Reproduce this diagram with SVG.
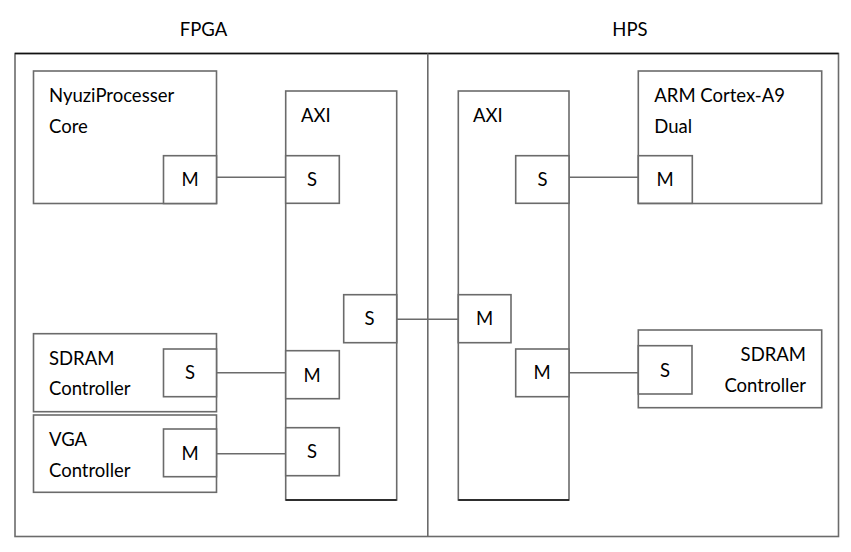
<svg xmlns="http://www.w3.org/2000/svg" width="851" height="552" viewBox="0 0 851 552">
<style>
.b{fill:#fff;stroke:#6b6b6b;stroke-width:1.6}
.f{fill:none;stroke:#6b6b6b;stroke-width:1.6}
.c{fill:none;stroke:#6b6b6b;stroke-width:1.6}
text{font-family:Lato,"Liberation Sans",sans-serif;font-size:18.5px;fill:#000}
.m{text-anchor:middle}
.e{text-anchor:end}
</style>
<rect width="851" height="552" fill="#fff"/>
<g id="frame">
<rect class="f" x="15" y="53.5" width="823.5" height="483"/>
<line x1="15" y1="53.5" x2="838.5" y2="53.5" stroke="#111" stroke-width="1.4"/>
<line class="f" x1="427.8" y1="53.5" x2="427.8" y2="536.5"/>
<text class="m" x="203.5" y="36">FPGA</text>
<text class="m" x="630" y="36">HPS</text>
</g>
<g id="nyuzi">
<rect class="b" x="33.5" y="71" width="183" height="132.5"/>
<text x="49" y="102.3">NyuziProcesser</text>
<text x="49" y="132.7">Core</text>
<rect class="b" x="163.5" y="155.7" width="53" height="47.8"/>
<text class="m" x="190" y="186">M</text>
</g>
<g id="sdram-fpga">
<rect class="b" x="33.5" y="333.7" width="183" height="78"/>
<text x="49" y="365">SDRAM</text>
<text x="49" y="395.3">Controller</text>
<rect class="b" x="163.5" y="349" width="53" height="47.7"/>
<text class="m" x="190" y="379.3">S</text>
</g>
<g id="vga">
<rect class="b" x="33.5" y="415" width="183" height="77.3"/>
<text x="49" y="445.7">VGA</text>
<text x="49" y="476.7">Controller</text>
<rect class="b" x="163.5" y="429" width="53" height="47.7"/>
<text class="m" x="190" y="460">M</text>
</g>
<g id="axi-fpga">
<rect class="b" x="285.7" y="91" width="111" height="409"/>
<line x1="285.7" y1="500" x2="396.7" y2="500" stroke="#111" stroke-width="1.4"/>
<text x="301" y="121.7">AXI</text>
<rect class="b" x="285.7" y="155.7" width="53.6" height="47.6"/>
<text class="m" x="312" y="186">S</text>
<rect class="b" x="343.7" y="294.7" width="53" height="48"/>
<text class="m" x="369.5" y="325">S</text>
<rect class="b" x="285.7" y="350.7" width="53.6" height="48"/>
<text class="m" x="312" y="381.7">M</text>
<rect class="b" x="285.7" y="427.7" width="53.6" height="48"/>
<text class="m" x="312" y="458.3">S</text>
</g>
<g id="axi-hps">
<rect class="b" x="458.3" y="91" width="110.7" height="409"/>
<line x1="458.3" y1="500" x2="569" y2="500" stroke="#111" stroke-width="1.4"/>
<text x="473" y="121.7">AXI</text>
<rect class="b" x="515.7" y="155.7" width="53.3" height="47.6"/>
<text class="m" x="542.5" y="186">S</text>
<rect class="b" x="458.3" y="294.7" width="52.7" height="48"/>
<text class="m" x="484.5" y="325">M</text>
<rect class="b" x="515.7" y="349" width="53.3" height="47.7"/>
<text class="m" x="542" y="379.3">M</text>
</g>
<g id="arm">
<rect class="b" x="638.3" y="71" width="183.4" height="132.5"/>
<text x="654.3" y="102.3">ARM Cortex-A9</text>
<text x="654.3" y="132.7">Dual</text>
<rect class="b" x="638.3" y="155.7" width="54" height="47.6"/>
<text class="m" x="665" y="186">M</text>
</g>
<g id="sdram-hps">
<rect class="b" x="638.3" y="330" width="183.4" height="77.7"/>
<text class="e" x="806" y="361">SDRAM</text>
<text class="e" x="806" y="391.7">Controller</text>
<rect class="b" x="638.3" y="345.7" width="53.7" height="48.3"/>
<text class="m" x="665" y="376.7">S</text>
</g>
<g id="connectors">
<line class="c" x1="216.5" y1="177.3" x2="285.7" y2="177.3"/>
<line class="c" x1="216.5" y1="372.7" x2="285.7" y2="372.7"/>
<line class="c" x1="216.5" y1="453.7" x2="285.7" y2="453.7"/>
<line class="c" x1="396.7" y1="319.3" x2="458.3" y2="319.3"/>
<line class="c" x1="569" y1="177.3" x2="638.3" y2="177.3"/>
<line class="c" x1="569" y1="372.7" x2="638.3" y2="372.7"/>
</g>
</svg>
